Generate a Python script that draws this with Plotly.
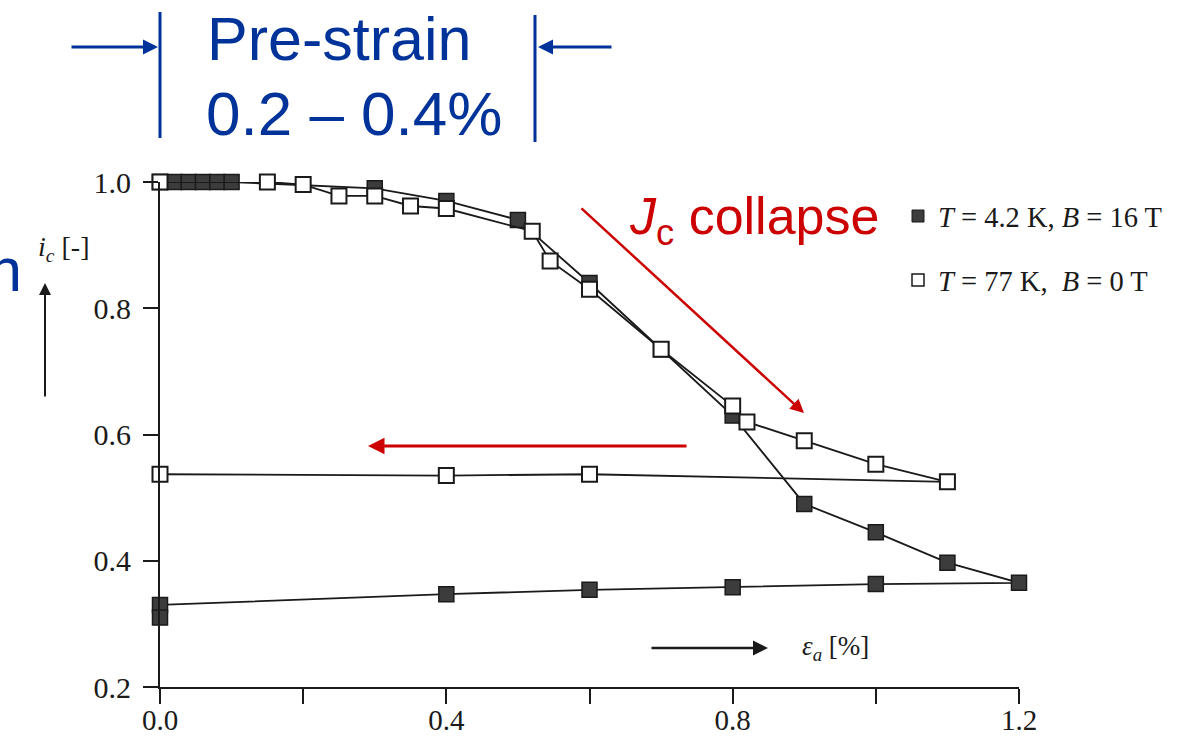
import plotly.graph_objects as go

# ---- data ----
filled_x = [0.0, 0.02, 0.04, 0.06, 0.08, 0.1, 0.3, 0.4, 0.5, 0.6, 0.7, 0.8, 0.9, 1.0, 1.1, 1.2,
            1.0, 0.8, 0.6, 0.4, 0.0, 0.0]
filled_y = [1.0, 1.0, 1.0, 1.0, 1.0, 1.0, 0.99, 0.97, 0.94, 0.84, 0.735, 0.63, 0.49, 0.445, 0.397, 0.365,
            0.363, 0.358, 0.354, 0.347, 0.33, 0.31]
open_x = [0.0, 0.15, 0.2, 0.25, 0.3, 0.35, 0.4, 0.52, 0.545, 0.6, 0.7, 0.8, 0.82, 0.9, 1.0, 1.1,
          0.6, 0.4, 0.0]
open_y = [1.0, 1.0, 0.996, 0.978, 0.978, 0.962, 0.958, 0.922, 0.875, 0.83, 0.735, 0.645, 0.62, 0.59,
          0.553, 0.525, 0.537, 0.535, 0.537]
x_ticks = [0.0, 0.2, 0.4, 0.6, 0.8, 1.0, 1.2]
x_ticktext = ["0.0", "", "0.4", "", "0.8", "", "1.2"]
y_ticks = [0.2, 0.4, 0.6, 0.8, 1.0]
y_ticktext = ["0.2", "0.4", "0.6", "0.8", "1.0"]
name_filled = "<i>T</i> = 4.2 K, <i>B</i> = 16 T"
name_open = "<i>T</i> = 77 K,  <i>B</i> = 0 T"

W, H = 1197, 744
L, R, T, B = 160, 178, 182, 57
PW, PH = W - L - R, H - T - B

def px(xp):
    return (xp - L) / PW

def py(yp):
    return (H - B - yp) / PH

SERIF = "Liberation Serif"
SANS = "Liberation Sans"
BLUE = "#003399"
RED = "#cc0000"
INK = "#1a1a1a"

fig = go.Figure()
fig.add_trace(go.Scatter(
    x=filled_x, y=filled_y, mode="lines+markers", name=name_filled, showlegend=False,
    line=dict(color=INK, width=1.8),
    marker=dict(symbol="square", size=15, color="#3c3c3c", line=dict(color=INK, width=1.5)),
    cliponaxis=False))
fig.add_trace(go.Scatter(
    x=open_x, y=open_y, mode="lines+markers", name=name_open, showlegend=False,
    line=dict(color=INK, width=1.8),
    marker=dict(symbol="square", size=15, color="white", line=dict(color=INK, width=2)),
    cliponaxis=False))
# legend-only entries (markers only, as in the reference)
fig.add_trace(go.Scatter(x=[None], y=[None], mode="markers", name=name_filled, legendgroup="a",
                         marker=dict(symbol="square", size=12, color="#3c3c3c", line=dict(color=INK, width=1))))
fig.add_trace(go.Scatter(x=[None], y=[None], mode="markers", name=name_open, legendgroup="b",
                         marker=dict(symbol="square", size=12, color="white", line=dict(color=INK, width=1.5))))

fig.update_layout(
    width=W, height=H, margin=dict(l=L, r=R, t=T, b=B, autoexpand=False),
    plot_bgcolor="white", paper_bgcolor="white",
    showlegend=True,
    legend=dict(x=px(898), y=py(191), xanchor="left", yanchor="top",
                font=dict(family=SERIF, size=28.5, color=INK),
                bgcolor="rgba(0,0,0,0)", tracegroupgap=24, itemwidth=30),
    xaxis=dict(range=[0, 1.2], showgrid=False, zeroline=False, showline=True, linecolor=INK, linewidth=2,
               automargin=False,
               ticks="outside", ticklen=15, tickwidth=1.8, tickcolor=INK,
               tickvals=x_ticks, ticktext=x_ticktext, ticklabelstandoff=-9,
               tickfont=dict(family=SERIF, size=29, color=INK)),
    yaxis=dict(range=[0.2, 1.0], showgrid=False, zeroline=False, showline=True, linecolor=INK, linewidth=2,
               automargin=False,
               ticks="outside", ticklen=15, tickwidth=1.8, tickcolor=INK,
               tickvals=y_ticks, ticktext=y_ticktext, ticklabelstandoff=6,
               tickfont=dict(family=SERIF, size=30, color=INK)),
)

ann = []
# axis labels
ann.append(dict(x=px(36), y=py(248), xref="paper", yref="paper", xanchor="left", yanchor="middle",
                text="<i>i</i><sub><i>c</i></sub> [-]", showarrow=False,
                font=dict(family=SERIF, size=28, color=INK)))
ann.append(dict(x=px(45), y=py(283), xref="paper", yref="paper", ax=0, ay=115, text="",
                showarrow=True, arrowhead=2, arrowsize=1.2, arrowwidth=2, arrowcolor=INK))
ann.append(dict(x=px(800), y=py(648), xref="paper", yref="paper", xanchor="left", yanchor="middle",
                text="<i>ε</i><sub><i>a</i></sub> [%]", showarrow=False,
                font=dict(family=SERIF, size=27, color=INK)))
ann.append(dict(x=px(768), y=py(648), xref="paper", yref="paper", ax=-118, ay=0, text="",
                showarrow=True, arrowhead=2, arrowsize=1.2, arrowwidth=2.5, arrowcolor=INK))
# blue pre-strain annotation
ann.append(dict(x=px(339), y=py(39), xref="paper", yref="paper", xanchor="center", yanchor="middle",
                text="Pre-strain", showarrow=False, font=dict(family=SANS, size=61, color=BLUE)))
ann.append(dict(x=px(354), y=py(113), xref="paper", yref="paper", xanchor="center", yanchor="middle",
                text="0.2 – 0.4%", showarrow=False, font=dict(family=SANS, size=62, color=BLUE)))
ann.append(dict(x=px(158), y=py(47), xref="paper", yref="paper", ax=-88, ay=0, text="",
                showarrow=True, arrowhead=2, arrowsize=1, arrowwidth=3, arrowcolor=BLUE))
ann.append(dict(x=px(538), y=py(47), xref="paper", yref="paper", ax=75, ay=0, text="",
                showarrow=True, arrowhead=2, arrowsize=1, arrowwidth=3, arrowcolor=BLUE))
ann.append(dict(x=px(24), y=py(270), xref="paper", yref="paper", xanchor="right", yanchor="middle",
                text="n", showarrow=False, font=dict(family=SANS, size=61, color=BLUE)))
# red annotations
ann.append(dict(x=px(627), y=py(220), xref="paper", yref="paper", xanchor="left", yanchor="middle",
                text="<i>J</i><sub>c</sub> collapse", showarrow=False,
                font=dict(family=SANS, size=52, color=RED)))
ann.append(dict(x=px(804), y=py(413), xref="paper", yref="paper", ax=-224, ay=-206, text="",
                showarrow=True, arrowhead=2, arrowsize=1.1, arrowwidth=2.5, arrowcolor=RED))
ann.append(dict(x=px(368), y=py(446), xref="paper", yref="paper", ax=320, ay=0, text="",
                showarrow=True, arrowhead=2, arrowsize=1.1, arrowwidth=3, arrowcolor=RED))
fig.update_layout(annotations=ann)

fig.update_layout(shapes=[
    dict(type="line", xref="paper", yref="paper", x0=px(160), x1=px(160), y0=py(12), y1=py(138),
         line=dict(color=BLUE, width=3)),
    dict(type="line", xref="paper", yref="paper", x0=px(535), x1=px(535), y0=py(15), y1=py(142),
         line=dict(color=BLUE, width=3)),
])

fig.write_html("out.html")
